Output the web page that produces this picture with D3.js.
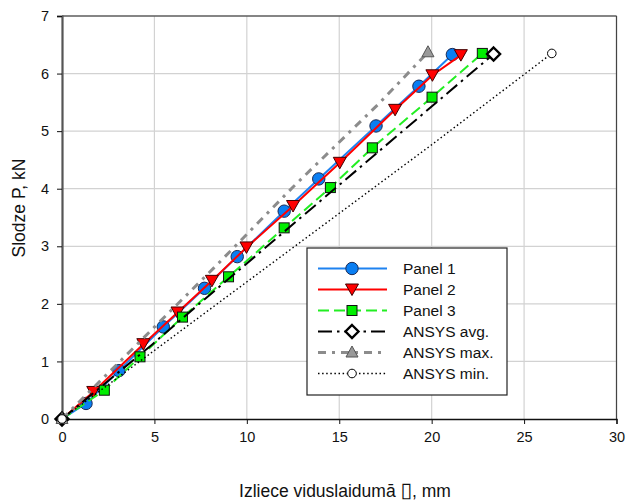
<!DOCTYPE html>
<html>
<head>
<meta charset="utf-8">
<script src="https://cdn.jsdelivr.net/npm/d3@7"></script>
<style>
  body { margin: 0; background: #fff; }
  text { font-family: "Liberation Sans", Arial, sans-serif; fill: #111; }
</style>
</head>
<body>
<div id="chart-area"></div>
<script>
// STEP 1: data - [deflection mm, load kN]
var panel1 = [[0,0],[1.3,0.27],[3.08,0.84],[5.48,1.6],[7.71,2.27],[9.48,2.82],[12.02,3.61],[13.89,4.17],[16.99,5.09],[19.31,5.78],[21.12,6.33]]
var panel2 = [[0,0],[1.69,0.47],[4.4,1.3],[6.25,1.85],[8.11,2.4],[9.98,2.98],[12.5,3.7],[15.03,4.45],[18.02,5.37],[20.04,5.97],[21.58,6.32]]
var panel3 = [[0,0],[2.29,0.5],[4.22,1.08],[6.52,1.77],[9.01,2.47],[12.02,3.32],[14.52,4.02],[16.79,4.71],[20.02,5.59],[22.74,6.35]]
var ansysAvg = [[0,0],[4.9,1.3],[7.46,2.01],[13.77,3.73],[18.54,5.03],[23.35,6.34]]
var ansysMax = [[0,0],[8.36,2.67],[12.5,4.03],[17.15,5.48],[19.8,6.37]]
var ansysMin = [[0,0],[20.07,4.78],[26.5,6.35]]

var seriesNames = ["Panel 1", "Panel 2", "Panel 3", "ANSYS avg.", "ANSYS max.", "ANSYS min."]
var xTicks = [0, 5, 10, 15, 20, 25, 30]
var yTicks = [0, 1, 2, 3, 4, 5, 6, 7]

const MARGIN = {left:62, right:10, top:16, bottom:84},
    WIDTH = 627 - MARGIN.left - MARGIN.right,
    HEIGHT = 503 - MARGIN.top - MARGIN.bottom

const svg = d3.select("#chart-area").append("svg")
            .attr("width", 627)
            .attr("height", 503)

const g = svg.append("g")
             .attr("transform", `translate(${MARGIN.left},${MARGIN.top})`)

// ---------------------------//
//       AXIS AND SCALE       //
// ---------------------------//
var xScale = d3.scaleLinear().domain([0, 30]).range([0, WIDTH - 0.5])
var yScale = d3.scaleLinear().domain([0, 7]).range([HEIGHT, 0])

// grid
g.selectAll(".vgrid").data(xTicks.slice(1)).enter().append("line")
 .attr("x1", d => xScale(d)).attr("x2", d => xScale(d))
 .attr("y1", 0).attr("y2", HEIGHT)
 .attr("stroke", "#d2d2d2").attr("stroke-width", 1.2)
g.selectAll(".hgrid").data(yTicks.slice(1)).enter().append("line")
 .attr("x1", 0).attr("x2", WIDTH)
 .attr("y1", d => yScale(d)).attr("y2", d => yScale(d))
 .attr("stroke", "#d2d2d2").attr("stroke-width", 1.2)

// border top / right
g.append("line").attr("x1", 0).attr("x2", xScale(30)).attr("y1", 0).attr("y2", 0)
 .attr("stroke", "#222").attr("stroke-width", 1.2)
g.append("line").attr("x1", xScale(30)).attr("x2", xScale(30)).attr("y1", 0).attr("y2", HEIGHT)
 .attr("stroke", "#444").attr("stroke-width", 1.2)

const xAxis = g.append("g")
  .attr("transform", `translate(0,${HEIGHT})`)
  .call(d3.axisBottom(xScale).tickValues(xTicks).tickFormat(d3.format("d")).tickSize(5).tickPadding(8))
xAxis.select(".domain").attr("stroke", "#111").attr("stroke-width", 1.3)
xAxis.selectAll(".tick line").attr("stroke", "#111")
xAxis.selectAll("text").style("font-size", "14.5px")

const yAxis = g.append("g")
  .call(d3.axisLeft(yScale).tickValues(yTicks).tickFormat(d3.format("d")).tickSize(5).tickPadding(8))
yAxis.select(".domain").attr("stroke", "#555").attr("stroke-width", 2.2)
yAxis.selectAll(".tick line").attr("stroke", "#111")
yAxis.selectAll("text").style("font-size", "14.5px")

// titles
svg.append("text")
   .attr("transform", "translate(25,208) rotate(-90)")
   .attr("text-anchor", "middle")
   .style("font-size", "17.5px")
   .text("Slodze P, kN")

const xTitle = svg.append("text")
   .attr("x", 345).attr("y", 497)
   .attr("text-anchor", "middle")
   .style("font-size", "17.5px")
xTitle.append("tspan").text("Izliece viduslaidumā ")
xTitle.append("tspan").style("font-size", "21px").style("font-family", "DejaVu Sans").text("\u25AF")
xTitle.append("tspan").text(", mm")

// ---------------------------//
//           SERIES           //
// ---------------------------//
const line = d3.line().x(d => xScale(d[0])).y(d => yScale(d[1]))

var styles = [
  {data: panel1, color: "#1e82f0", width: 2, dash: null},
  {data: panel2, color: "#ff0000", width: 2, dash: null},
  {data: panel3, color: "#22ee22", width: 2, dash: "11,5"},
  {data: ansysAvg, color: "#000", width: 2, dash: "14,5,2.5,5"},
  {data: ansysMax, color: "#8c8c8c", width: 3, dash: "8,6,3,6"},
  {data: ansysMin, color: "#000", width: 1.4, dash: "1.5,2.6"}
]

function drawMarker(sel, i, x, y) {
  if (i == 0) {
    sel.append("circle").attr("cx", x).attr("cy", y).attr("r", 6.2)
       .attr("fill", "#0a7ef2").attr("stroke", "#1a2a55").attr("stroke-width", 1)
  } else if (i == 1) {
    sel.append("path").attr("d", `M${x-6.5},${y-5.5}L${x+6.5},${y-5.5}L${x},${y+6}Z`)
       .attr("fill", "#ff0000").attr("stroke", "#400").attr("stroke-width", 1)
  } else if (i == 2) {
    sel.append("rect").attr("x", x-5).attr("y", y-5).attr("width", 10).attr("height", 10)
       .attr("fill", "#00ee00").attr("stroke", "#111").attr("stroke-width", 1)
  } else if (i == 3) {
    sel.append("path").attr("d", `M${x},${y-6.5}L${x+6.5},${y}L${x},${y+6.5}L${x-6.5},${y}Z`)
       .attr("fill", "#fff").attr("stroke", "#000").attr("stroke-width", 2.4)
  } else if (i == 4) {
    sel.append("path").attr("d", `M${x},${y-6.5}L${x+6},${y+4.5}L${x-6},${y+4.5}Z`)
       .attr("fill", "#9a9a9a").attr("stroke", "#555").attr("stroke-width", 1)
  } else {
    sel.append("circle").attr("cx", x).attr("cy", y).attr("r", 4.3)
       .attr("fill", "#fff").attr("stroke", "#000").attr("stroke-width", 1)
  }
}

styles.forEach((s, i) => {
  g.append("path").datum(s.data)
   .attr("d", line)
   .attr("fill", "none")
   .attr("stroke", s.color)
   .attr("stroke-width", s.width)
   .attr("stroke-dasharray", s.dash)

  // panels: markers on each measured point, ANSYS: only at start and end
  var pts = i < 3 ? s.data.slice(1) : [s.data[0], s.data[s.data.length-1]]
  pts.forEach(p => drawMarker(g, i, xScale(p[0]), yScale(p[1])))
})

// ---------------------------//
//           LEGEND           //
// ---------------------------//
const legend = svg.append("g").attr("transform", "translate(307,248)")
legend.append("rect").attr("width", 200).attr("height", 147)
      .attr("fill", "#fff").attr("stroke", "#222").attr("stroke-width", 1.2)

seriesNames.forEach((name, i) => {
  var y = 20.5 + i * 21
  legend.append("line").attr("x1", 11).attr("x2", 80).attr("y1", y).attr("y2", y)
        .attr("stroke", styles[i].color).attr("stroke-width", styles[i].width)
        .attr("stroke-dasharray", styles[i].dash)
  drawMarker(legend, i, 45, y)
  legend.append("text").attr("x", 96).attr("y", y + 5.5)
        .style("font-size", "15.5px").text(name)
})
</script>
</body>
</html>
